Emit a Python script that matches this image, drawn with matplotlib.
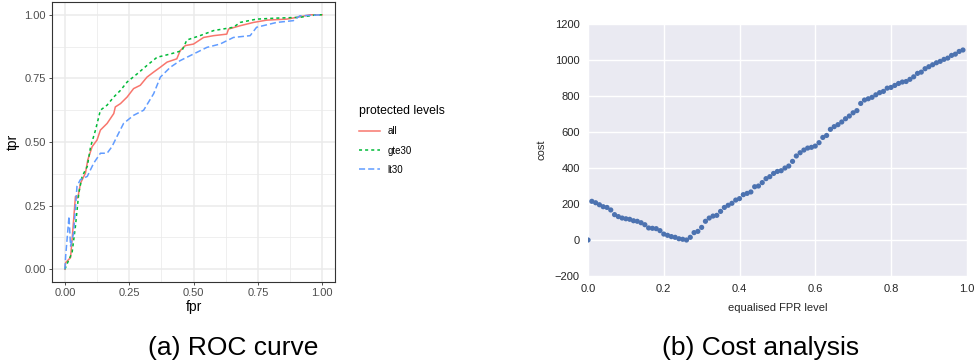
import numpy as np
import matplotlib.pyplot as plt

plt.rcParams["font.family"] = ["Liberation Sans", "DejaVu Sans"]

# ROC curves, vertices (fpr, tpr)
all_fpr = [0, 0.003, 0.022, 0.028, 0.041, 0.05, 0.061, 0.080, 0.089, 0.106, 0.125, 0.138,
           0.164, 0.19, 0.196, 0.216, 0.242, 0.267, 0.293, 0.319, 0.345, 0.371, 0.397,
           0.435, 0.448, 0.468, 0.5, 0.539, 0.578, 0.629, 0.636, 0.681, 0.733, 0.784,
           0.862, 0.913, 0.952, 1.0]
all_tpr = [0, 0.026, 0.046, 0.117, 0.286, 0.28, 0.339, 0.378, 0.430, 0.482, 0.508, 0.547,
           0.573, 0.612, 0.638, 0.651, 0.677, 0.710, 0.723, 0.755, 0.775, 0.794, 0.814,
           0.827, 0.859, 0.879, 0.885, 0.911, 0.918, 0.924, 0.944, 0.957, 0.970, 0.979,
           0.983, 0.992, 1.0, 1.0]

gte_fpr = [0, 0.016, 0.028, 0.041, 0.054, 0.067, 0.087, 0.1, 0.119, 0.138, 0.164, 0.19,
           0.216, 0.242, 0.281, 0.319, 0.358, 0.41, 0.455, 0.474, 0.525, 0.578, 0.655,
           0.681, 0.745, 0.823, 0.913, 0.978, 1.0]
gte_tpr = [0, 0.039, 0.065, 0.169, 0.299, 0.365, 0.404, 0.482, 0.547, 0.625, 0.645, 0.677,
           0.703, 0.736, 0.768, 0.801, 0.833, 0.846, 0.859, 0.901, 0.918, 0.938, 0.951,
           0.970, 0.983, 0.987, 0.990, 1.0, 1.0]

lt_fpr = [0, 0.003, 0.016, 0.022, 0.034, 0.047, 0.06, 0.087, 0.112, 0.138, 0.164, 0.183,
          0.202, 0.228, 0.267, 0.306, 0.345, 0.371, 0.41, 0.448, 0.5, 0.552, 0.603, 0.655,
          0.72, 0.745, 0.823, 0.888, 0.913, 1.0]
lt_tpr = [0, 0.052, 0.208, 0.091, 0.143, 0.326, 0.352, 0.365, 0.417, 0.456, 0.456, 0.482,
          0.521, 0.573, 0.605, 0.625, 0.690, 0.755, 0.794, 0.820, 0.846, 0.872, 0.885,
          0.911, 0.918, 0.951, 0.970, 0.977, 0.996, 1.0]

# cost analysis
fpr_level = np.arange(100) / 100
cost = [0, 215, 207, 196, 185, 181, 167, 141, 130, 122,
        118, 115, 107, 104, 96, 85, 67, 65, 63, 52,
        33, 26, 19, 15, 7, 4, 0, 15, 41, 48,
        70, 104, 122, 133, 137, 159, 181, 193, 204, 222,
        230, 252, 259, 267, 296, 300, 319, 341, 352, 370,
        381, 385, 400, 411, 437, 467, 485, 500, 511, 515,
        522, 541, 570, 581, 615, 630, 641, 656, 674, 689,
        707, 719, 759, 778, 785, 793, 807, 819, 826, 844,
        848, 859, 870, 878, 881, 893, 907, 926, 933, 952,
        963, 974, 985, 993, 1004, 1011, 1026, 1033, 1048, 1056]

fig = plt.figure(figsize=(9.76, 3.64), dpi=100)

# (a) ROC curve, ggplot theme_bw look
ax1 = fig.add_axes([0.0533, 0.2253, 0.29, 0.769])
ax1.set_xlim(-0.05, 1.05)
ax1.set_ylim(-0.05, 1.05)
ticks = [0, 0.25, 0.5, 0.75, 1.0]
ax1.set_xticks(ticks)
ax1.set_yticks(ticks)
ax1.set_xticklabels(["0.00", "0.25", "0.50", "0.75", "1.00"])
ax1.set_yticklabels(["0.00", "0.25", "0.50", "0.75", "1.00"])
ax1.set_xticks([0.125, 0.375, 0.625, 0.875], minor=True)
ax1.set_yticks([0.125, 0.375, 0.625, 0.875], minor=True)
ax1.grid(True, which="major", color="#EBEBEB", lw=1.1)
ax1.grid(True, which="minor", color="#EBEBEB", lw=0.55)
ax1.set_axisbelow(True)
ax1.tick_params(which="major", length=2.5, width=0.6, color="#333333",
                labelsize=8, labelcolor="#4D4D4D", pad=2)
ax1.tick_params(which="minor", length=0)
for s in ax1.spines.values():
    s.set_color("#333333")
    s.set_linewidth(0.8)

l1, = ax1.plot(all_fpr, all_tpr, color="#F8766D", lw=1.1, label="all")
l2, = ax1.plot(gte_fpr, gte_tpr, color="#00BA38", lw=1.1, dashes=(2, 2), label="gte30")
l3, = ax1.plot(lt_fpr, lt_tpr, color="#619CFF", lw=1.1, dashes=(4, 2), label="lt30")
ax1.set_xlabel("fpr", fontsize=10, labelpad=1)
ax1.set_ylabel("tpr", fontsize=10, labelpad=3)

leg = fig.legend(handles=[l1, l2, l3], title="protected levels",
                 loc="upper left", bbox_to_anchor=(0.3635, 0.722), frameon=False,
                 fontsize=7, title_fontsize=8.8, handlelength=2.2,
                 labelspacing=0.95, alignment="left", borderaxespad=0)

# (b) Cost analysis, seaborn darkgrid look
ax2 = fig.add_axes([0.6025, 0.2418, 0.388, 0.692])
ax2.set_facecolor("#EAEAF2")
ax2.grid(True, color="white", lw=1.0)
ax2.set_axisbelow(True)
for s in ax2.spines.values():
    s.set_visible(False)
ax2.scatter(fpr_level, cost, s=14, color="#4C72B0", edgecolors="none", zorder=3)
ax2.set_xlim(0, 1)
ax2.set_ylim(-200, 1200)
ax2.set_xticks([0, 0.2, 0.4, 0.6, 0.8, 1.0])
ax2.set_yticks(range(-200, 1201, 200))
ax2.set_yticklabels(["\u2212200"] + [str(v) for v in range(0, 1201, 200)])
ax2.tick_params(length=0, labelsize=8, labelcolor="#262626", pad=6)
ax2.set_xlabel("equalised FPR level", fontsize=8, color="#262626", labelpad=6)
ax2.set_ylabel("cost", fontsize=8, color="#262626", labelpad=6)

fig.text(0.239, 0.044, "(a) ROC curve", ha="center", va="center", fontsize=19)
fig.text(0.779, 0.044, "(b) Cost analysis", ha="center", va="center", fontsize=19)

fig.savefig("out.png", dpi=100)
